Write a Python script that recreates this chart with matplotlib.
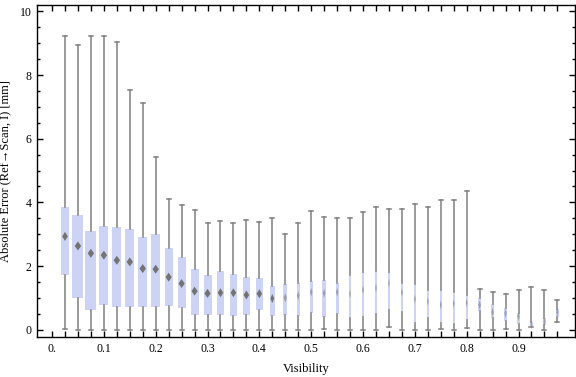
import matplotlib
matplotlib.use("Agg")
import matplotlib.pyplot as plt
import numpy as np

visibility = [0.025 * k for k in range(1, 40)]
whisk_hi = [9.22, 8.95, 9.22, 9.22, 9.05, 7.54, 7.11, 5.44, 4.10, 3.91,
            3.75, 3.34, 3.41, 3.34, 3.44, 3.38, 3.50, 3.00, 3.34, 3.72,
            3.53, 3.50, 3.50, 3.70, 3.85, 3.78, 3.78, 3.95, 3.86, 4.08,
            4.08, 4.36, 1.28, 1.19, 1.12, 1.24, 1.34, 1.24, 0.94]
q3 = [3.86, 3.60, 3.10, 3.26, 3.23, 3.17, 2.92, 3.01, 2.57, 2.29,
      1.91, 1.72, 1.85, 1.76, 1.66, 1.63, 1.38, 1.44, 1.46, 1.54,
      1.57, 1.47, 1.71, 1.82, 1.84, 1.82, 1.47, 1.44, 1.25, 1.25,
      1.19, 1.09, 1.01, 0.80, 0.68, 0.53, 0.23, 0.38, 0.66]
medians = [2.93, 2.63, 2.40, 2.34, 2.18, 2.13, 1.92, 1.90, 1.65, 1.45,
           1.21, 1.14, 1.16, 1.16, 1.09, 1.13, 0.98, 1.00, 1.07, 1.18,
           1.15, 1.18, 1.13, 1.25, 1.31, 1.46, 1.17, 0.96, 0.89, 0.78,
           0.82, 0.84, 0.77, 0.55, 0.51, 0.42, 0.15, 0.25, 0.55]
q1 = [1.72, 0.98, 0.61, 0.76, 0.70, 0.70, 0.70, 0.70, 0.73, 0.67,
      0.45, 0.45, 0.45, 0.42, 0.45, 0.61, 0.42, 0.46, 0.44, 0.53,
      0.39, 0.50, 0.37, 0.39, 0.50, 0.63, 0.56, 0.22, 0.36, 0.22,
      0.18, 0.30, 0.60, 0.36, 0.26, 0.17, 0.08, 0.14, 0.41]
whisk_lo = [0.02, 0.0, 0.0, 0.0, 0.0, 0.0, 0.0, 0.0, 0.0, 0.0,
            0.0, 0.0, 0.0, 0.0, 0.0, 0.0, 0.0, 0.0, 0.0, 0.0,
            0.02, 0.0, 0.0, 0.0, 0.0, 0.09, 0.0, 0.0, 0.0, 0.02,
            0.0, 0.04, 0.0, 0.0, 0.02, 0.0, 0.08, 0.0, 0.24]
box_px = [7.3, 11, 11, 9, 9, 9, 9, 9, 8, 8,
          8, 8, 7.3, 7.3, 7.3, 7.3, 5, 4.3, 3.3, 3,
          3.3, 3, 2, 2.3, 2, 2, 2.3, 2.3, 2, 2.3,
          2.3, 2.3, 3.3, 3, 3, 3, 2.3, 2.7, 2.7]

x_labels = ["0.", "0.1", "0.2", "0.3", "0.4", "0.5", "0.6", "0.7", "0.8", "0.9"]

plt.rcParams['font.family'] = ['Liberation Serif', 'DejaVu Serif']

fig = plt.figure(figsize=(5.76, 3.77), dpi=100)
ax = fig.add_axes([37/576, 40/377, 538/576, 332/377])
xlo, xhi = -0.029, 1.009
ax.set_xlim(xlo, xhi)
ax.set_ylim(-0.23, 10.2)
px_per_unit = 538 / (xhi - xlo)
widths = [w / px_per_unit for w in box_px]

stats = []
for i in range(len(visibility)):
    stats.append(dict(med=medians[i], q1=q1[i], q3=q3[i],
                      whislo=whisk_lo[i], whishi=whisk_hi[i], fliers=[]))

box_color = '#ccd3f5'
grey = '#7f7f7f'
ax.bxp(stats, positions=visibility, widths=widths, patch_artist=True,
       showfliers=False, manage_ticks=False,
       capwidths=[4 / px_per_unit] * len(visibility),
       boxprops=dict(facecolor=box_color, edgecolor='none', linewidth=0),
       whiskerprops=dict(color=grey, linewidth=1.1),
       capprops=dict(color=grey, linewidth=1.1),
       medianprops=dict(linewidth=0, color='none'),
       zorder=2)

for i in range(len(visibility)):
    wpx = min(box_px[i] * 0.6, 5.0)
    ratio = wpx / 7.0
    verts = [(0, 1), (ratio, 0), (0, -1), (-ratio, 0), (0, 1)]
    alpha = 1.0 if box_px[i] >= 5 else 0.55
    ax.scatter([visibility[i]], [medians[i]], marker=verts, s=42,
               color='#737373', edgecolors='none', alpha=alpha, zorder=4)

xt = [0.025 * k for k in range(0, 40)]
ax.set_xticks(xt)
ax.set_xticklabels([x_labels[k // 4] if k % 4 == 0 else "" for k in range(40)])
ax.set_yticks([0, 2, 4, 6, 8, 10])
ax.set_yticks(np.arange(0, 10.01, 0.5), minor=True)
ax.tick_params(axis='both', which='major', direction='in', length=4,
               width=1, top=True, right=True, labelsize=8.5, pad=4)
ax.tick_params(axis='y', which='minor', direction='in', length=2,
               width=1, left=True, right=True)
for s in ax.spines.values():
    s.set_linewidth(1.0)

ax.set_xlabel("Visibility", fontsize=9, labelpad=6)
ax.set_ylabel("Absolute Error (Ref\u2192Scan, I) [mm]", fontsize=9, labelpad=6)

fig.savefig("out.png", dpi=100)
